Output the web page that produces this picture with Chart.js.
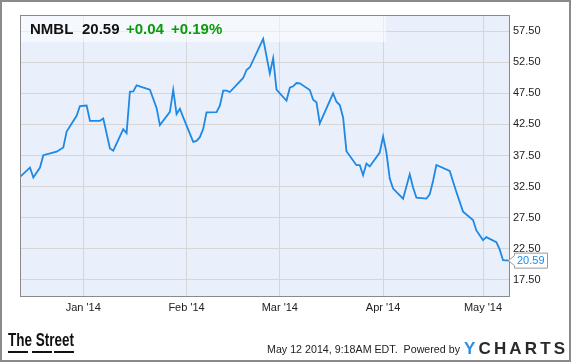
<!DOCTYPE html>
<html>
<head>
<meta charset="utf-8">
<script src="https://cdn.jsdelivr.net/npm/chart.js@4/dist/chart.umd.min.js"></script>
<style>
html,body{margin:0;padding:0;background:#fff;}
#wrap{width:575px;height:362px;position:relative;}
</style>
</head>
<body>
<div id="wrap"><canvas id="c" width="575" height="362"></canvas></div>
<script>
// Days counted from Jan 1 2014 (negative = Dec 2013)
const dayOffsets = [-19,-16,-15,-13,-12,-8,-6,-5,-2,-1,1,2,5,6,8,9,12,13,14,15,16,20,22,23,26,27,28,29,30,33,34,35,36,37,40,41,42,43,44,48,49,50,54,56,57,58,61,62,63,64,65,68,69,70,71,75,76,77,78,79,82,83,84,85,86,89,90,91,92,93,96,98,99,100,103,104,105,106,110,112,114,117,118,120,121,124,125,126,128];
const prices = [34.05,35.56,33.95,35.56,37.55,38.11,38.79,41.34,43.89,45.45,45.53,43.08,43.08,43.44,38.63,38.27,41.74,41.10,47.79,47.82,48.79,48.08,45.16,42.39,44.53,48.08,44.16,45.02,43.63,39.69,39.85,40.45,41.79,44.44,44.48,45.53,47.92,47.92,47.71,49.97,51.26,51.69,56.26,50.69,53.15,48.11,46.31,48.40,48.63,49.16,49.11,48.03,46.47,46.05,42.66,47.50,46.15,45.61,43.63,38.19,35.94,35.94,34.32,36.21,35.73,37.98,40.56,37.98,33.79,32.18,30.56,34.48,32.34,30.73,30.56,31.26,33.40,35.98,35.02,31.63,28.47,27.11,25.45,23.89,24.37,23.56,22.39,20.66,20.59];
const monthTickDays = [0,31,59,90,120];
const monthTickLabels = ["Jan '14","Feb '14","Mar '14","Apr '14","May '14"];
const yTickValues = [17.5,22.5,27.5,32.5,37.5,42.5,47.5,52.5,57.5];
const ticker = "NMBL";
const lastPrice = "20.59";
const changeAbs = "+0.04";
const changePct = "+0.19%";
const footerText = "May 12 2014, 9:18AM EDT.  Powered by";

const points = dayOffsets.map((d,i)=>({x:d,y:prices[i]}));
const FONT = "'Liberation Sans', Arial, Helvetica, sans-serif";

const decor = {
  id:'decor',
  beforeDraw(chart){
    const {ctx, chartArea:a} = chart;
    ctx.save();
    ctx.fillStyle='#fff';
    ctx.fillRect(0,0,chart.width,chart.height);
    ctx.fillStyle='#eaf0fb';
    ctx.fillRect(a.left,a.top,a.right-a.left,a.bottom-a.top);
    ctx.restore();
  },
  beforeDatasetsDraw(chart){
    const {ctx, chartArea:a} = chart;
    ctx.save();
    ctx.fillStyle='rgba(255,255,255,0.5)';
    ctx.fillRect(a.left,a.top,386-a.left,27);
    ctx.restore();
  },
  afterDraw(chart){
    const {ctx, chartArea:a} = chart;
    ctx.save();
    // plot frame
    ctx.strokeStyle='#8a8a8a';ctx.lineWidth=1;
    ctx.strokeRect(a.left+0.5,a.top+0.5,a.right-a.left-1,a.bottom-a.top);
    // outer frame
    ctx.strokeStyle='#8a8a8a';ctx.lineWidth=2;
    ctx.strokeRect(1,1,569,360);
    // header
    ctx.textBaseline='alphabetic';ctx.textAlign='left';
    ctx.font='bold 15px '+FONT;
    ctx.fillStyle='#111';
    ctx.fillText(ticker,30,34);
    ctx.fillText(lastPrice,82,34);
    ctx.fillStyle='#0a9a0a';
    ctx.fillText(changeAbs,126,34);
    ctx.fillText(changePct,171,34);
    // last value tag
    const ys = chart.scales.y;
    const yv = ys.getPixelForValue(prices[prices.length-1]);
    ctx.fillStyle='#fff';ctx.strokeStyle='#9a9a9a';ctx.lineWidth=1;
    ctx.beginPath();
    ctx.moveTo(508.5,yv);
    ctx.lineTo(514.5,yv-5);
    ctx.lineTo(514.5,yv-7.5);
    ctx.lineTo(547.5,yv-7.5);
    ctx.lineTo(547.5,yv+7.5);
    ctx.lineTo(514.5,yv+7.5);
    ctx.lineTo(514.5,yv+5);
    ctx.closePath();
    ctx.fill();ctx.stroke();
    ctx.fillStyle='#1a8be8';
    ctx.font='11px '+FONT;
    ctx.textBaseline='middle';
    ctx.fillText(lastPrice,517,yv+0.5);
    // The Street logo
    ctx.textBaseline='alphabetic';
    ctx.font='bold 18px '+FONT;
    ctx.fillStyle='#111';
    const tw = ctx.measureText('The Street').width;
    ctx.save();
    ctx.translate(8,345.5);
    ctx.scale(66/tw,1);
    ctx.fillText('The Street',0,0);
    ctx.restore();
    ctx.fillRect(8,351,20,2);
    ctx.fillRect(32,351,20,2);
    ctx.fillRect(54,351,20,2);
    // footer
    ctx.font='11px '+FONT;
    ctx.fillStyle='#222';
    const fw = ctx.measureText(footerText).width;
    ctx.save();
    ctx.translate(267,353);
    ctx.scale(Math.min(1,193/fw),1);
    ctx.fillText(footerText,0,0);
    ctx.restore();
    // YCHARTS
    ctx.font='bold 17px '+FONT;
    const letters='YCHARTS'.split('');
    const widths=letters.map(l=>ctx.measureText(l).width);
    const total=widths.reduce((s,w)=>s+w,0);
    const gap=(101-total)/(letters.length-1);
    let x=464;
    letters.forEach((l,i)=>{
      ctx.fillStyle = i===0 ? '#2f8fe0' : '#2a2a2a';
      ctx.fillText(l,x,354);
      x+=widths[i]+gap;
    });
    ctx.restore();
  }
};

new Chart(document.getElementById('c'),{
  type:'line',
  data:{datasets:[{data:points,borderColor:'#1e88e5',borderWidth:1.8,pointRadius:0,tension:0,fill:false}]},
  options:{
    responsive:false,animation:false,
    layout:{padding:{left:20,top:15,right:0,bottom:0}},
    plugins:{legend:{display:false},tooltip:{enabled:false}},
    scales:{
      x:{type:'linear',min:-19,max:128.1,
        afterBuildTicks(s){s.ticks=monthTickDays.map(v=>({value:v}));},
        afterFit(s){s.height=66;},
        grid:{color:'#d6d6d6',drawTicks:false,lineWidth:1},
        border:{display:false},
        ticks:{padding:5,color:'#222',font:{family:FONT,size:11},maxRotation:0,autoSkip:false,
          callback(v){const i=monthTickDays.indexOf(v);return i>=0?monthTickLabels[i]:'';}}
      },
      y:{type:'linear',position:'right',min:14.9,max:60.1,
        afterBuildTicks(s){s.ticks=yTickValues.map(v=>({value:v}));},
        afterFit(s){s.width=65;},
        grid:{color:'#d6d6d6',drawTicks:false,lineWidth:1},
        border:{display:false},
        ticks:{padding:3,color:'#222',font:{family:FONT,size:11},autoSkip:false,
          callback(v){return Number(v).toFixed(2);}}
      }
    }
  },
  plugins:[decor]
});
</script>
</body>
</html>
